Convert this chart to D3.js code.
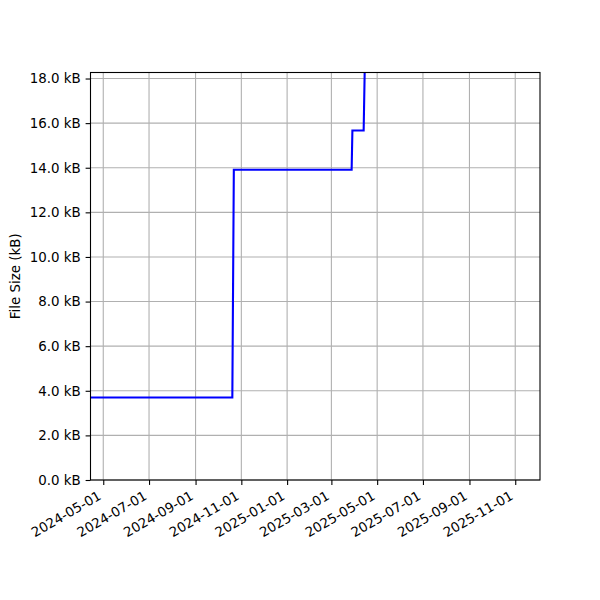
<!DOCTYPE html>
<html>
<head>
<meta charset="utf-8">
<style>
body { margin: 0; background: #fff; }
svg text { font-family: "DejaVu Sans", sans-serif; font-size: 13.4px; fill: #000; }
</style>
</head>
<body>
<svg width="600" height="600"></svg>
<script src="https://cdn.jsdelivr.net/npm/d3@7"></script>
<script>
// data
var dates = ["2024-04-14", "2024-10-20", "2024-10-22", "2025-03-28", "2025-03-29", "2025-04-13", "2025-04-15"];
var sizes = [3.70, 3.70, 13.91, 13.91, 15.67, 15.67, 19.5]; // kB
var xTicks = ["2024-05-01", "2024-07-01", "2024-09-01", "2024-11-01", "2025-01-01", "2025-03-01",
              "2025-05-01", "2025-07-01", "2025-09-01", "2025-11-01"];
var yTicks = [0, 2, 4, 6, 8, 10, 12, 14, 16, 18];
var xLimits = ["2024-04-14", "2025-12-04"];
var yMax = 18.27;

var parse = d3.utcParse("%Y-%m-%d");
var data = dates.map(function(d, i) { return { date: parse(d), size: sizes[i] }; });

var svg = d3.select("svg"),
    margin = {top: 72.5, right: 60, bottom: 120, left: 90.5},
    width = 600 - margin.left - margin.right,
    height = 600 - margin.top - margin.bottom,
    g = svg.append("g").attr("transform", "translate(" + margin.left + "," + margin.top + ")");

var x = d3.scaleUtc().domain(xLimits.map(parse)).range([0, width]);
var y = d3.scaleLinear().domain([0, yMax]).range([height, 0]);

// grid
g.append("g").selectAll("line")
  .data(xTicks.map(parse))
  .enter().append("line")
    .attr("x1", function(d) { return x(d); })
    .attr("x2", function(d) { return x(d); })
    .attr("y1", 0).attr("y2", height)
    .attr("stroke", "#b0b0b0").attr("stroke-width", 1.1);

g.append("g").selectAll("line")
  .data(yTicks)
  .enter().append("line")
    .attr("x1", 0).attr("x2", width)
    .attr("y1", function(d) { return y(d); })
    .attr("y2", function(d) { return y(d); })
    .attr("stroke", "#b0b0b0").attr("stroke-width", 1.1);

// the line, clipped to the axes
svg.append("clipPath").attr("id", "clip")
  .append("rect").attr("width", width).attr("height", height);

var line = d3.line()
    .x(function(d) { return x(d.date); })
    .y(function(d) { return y(d.size); });

g.append("path")
    .datum(data)
    .attr("clip-path", "url(#clip)")
    .attr("fill", "none")
    .attr("stroke", "#0000ff")
    .attr("stroke-width", 2.1)
    .attr("stroke-linejoin", "miter")
    .attr("d", line);

// axes
var xAxis = g.append("g")
    .attr("transform", "translate(0," + height + ")")
    .call(d3.axisBottom(x).tickValues(xTicks.map(parse)).tickFormat(d3.utcFormat("%Y-%m-%d"))
      .tickSizeInner(4.9).tickSizeOuter(0).tickPadding(4.9));
xAxis.select(".domain").remove();
xAxis.selectAll("line").attr("stroke", "#000").attr("stroke-width", 1.1);
xAxis.selectAll("text")
    .attr("font-size", null).attr("font-family", null)
    .style("text-anchor", "end")
    .attr("y", 0).attr("dy", null)
    .attr("transform", "translate(-1.6,18.5) rotate(-30)");

var yAxis = g.append("g")
    .call(d3.axisLeft(y).tickValues(yTicks).tickFormat(function(d) { return d3.format(".1f")(d) + " kB"; })
      .tickSizeInner(4.9).tickSizeOuter(0).tickPadding(4.9));
yAxis.select(".domain").remove();
yAxis.selectAll("line").attr("stroke", "#000").attr("stroke-width", 1.1);
yAxis.selectAll("text").attr("font-size", null).attr("font-family", null);

// frame
g.append("rect")
    .attr("width", width).attr("height", height)
    .attr("fill", "none").attr("stroke", "#000").attr("stroke-width", 1.1);

svg.append("text")
    .attr("transform", "translate(20," + (margin.top + height / 2) + ") rotate(-90)")
    .attr("text-anchor", "middle")
    .text("File Size (kB)");
</script>
</body>
</html>
